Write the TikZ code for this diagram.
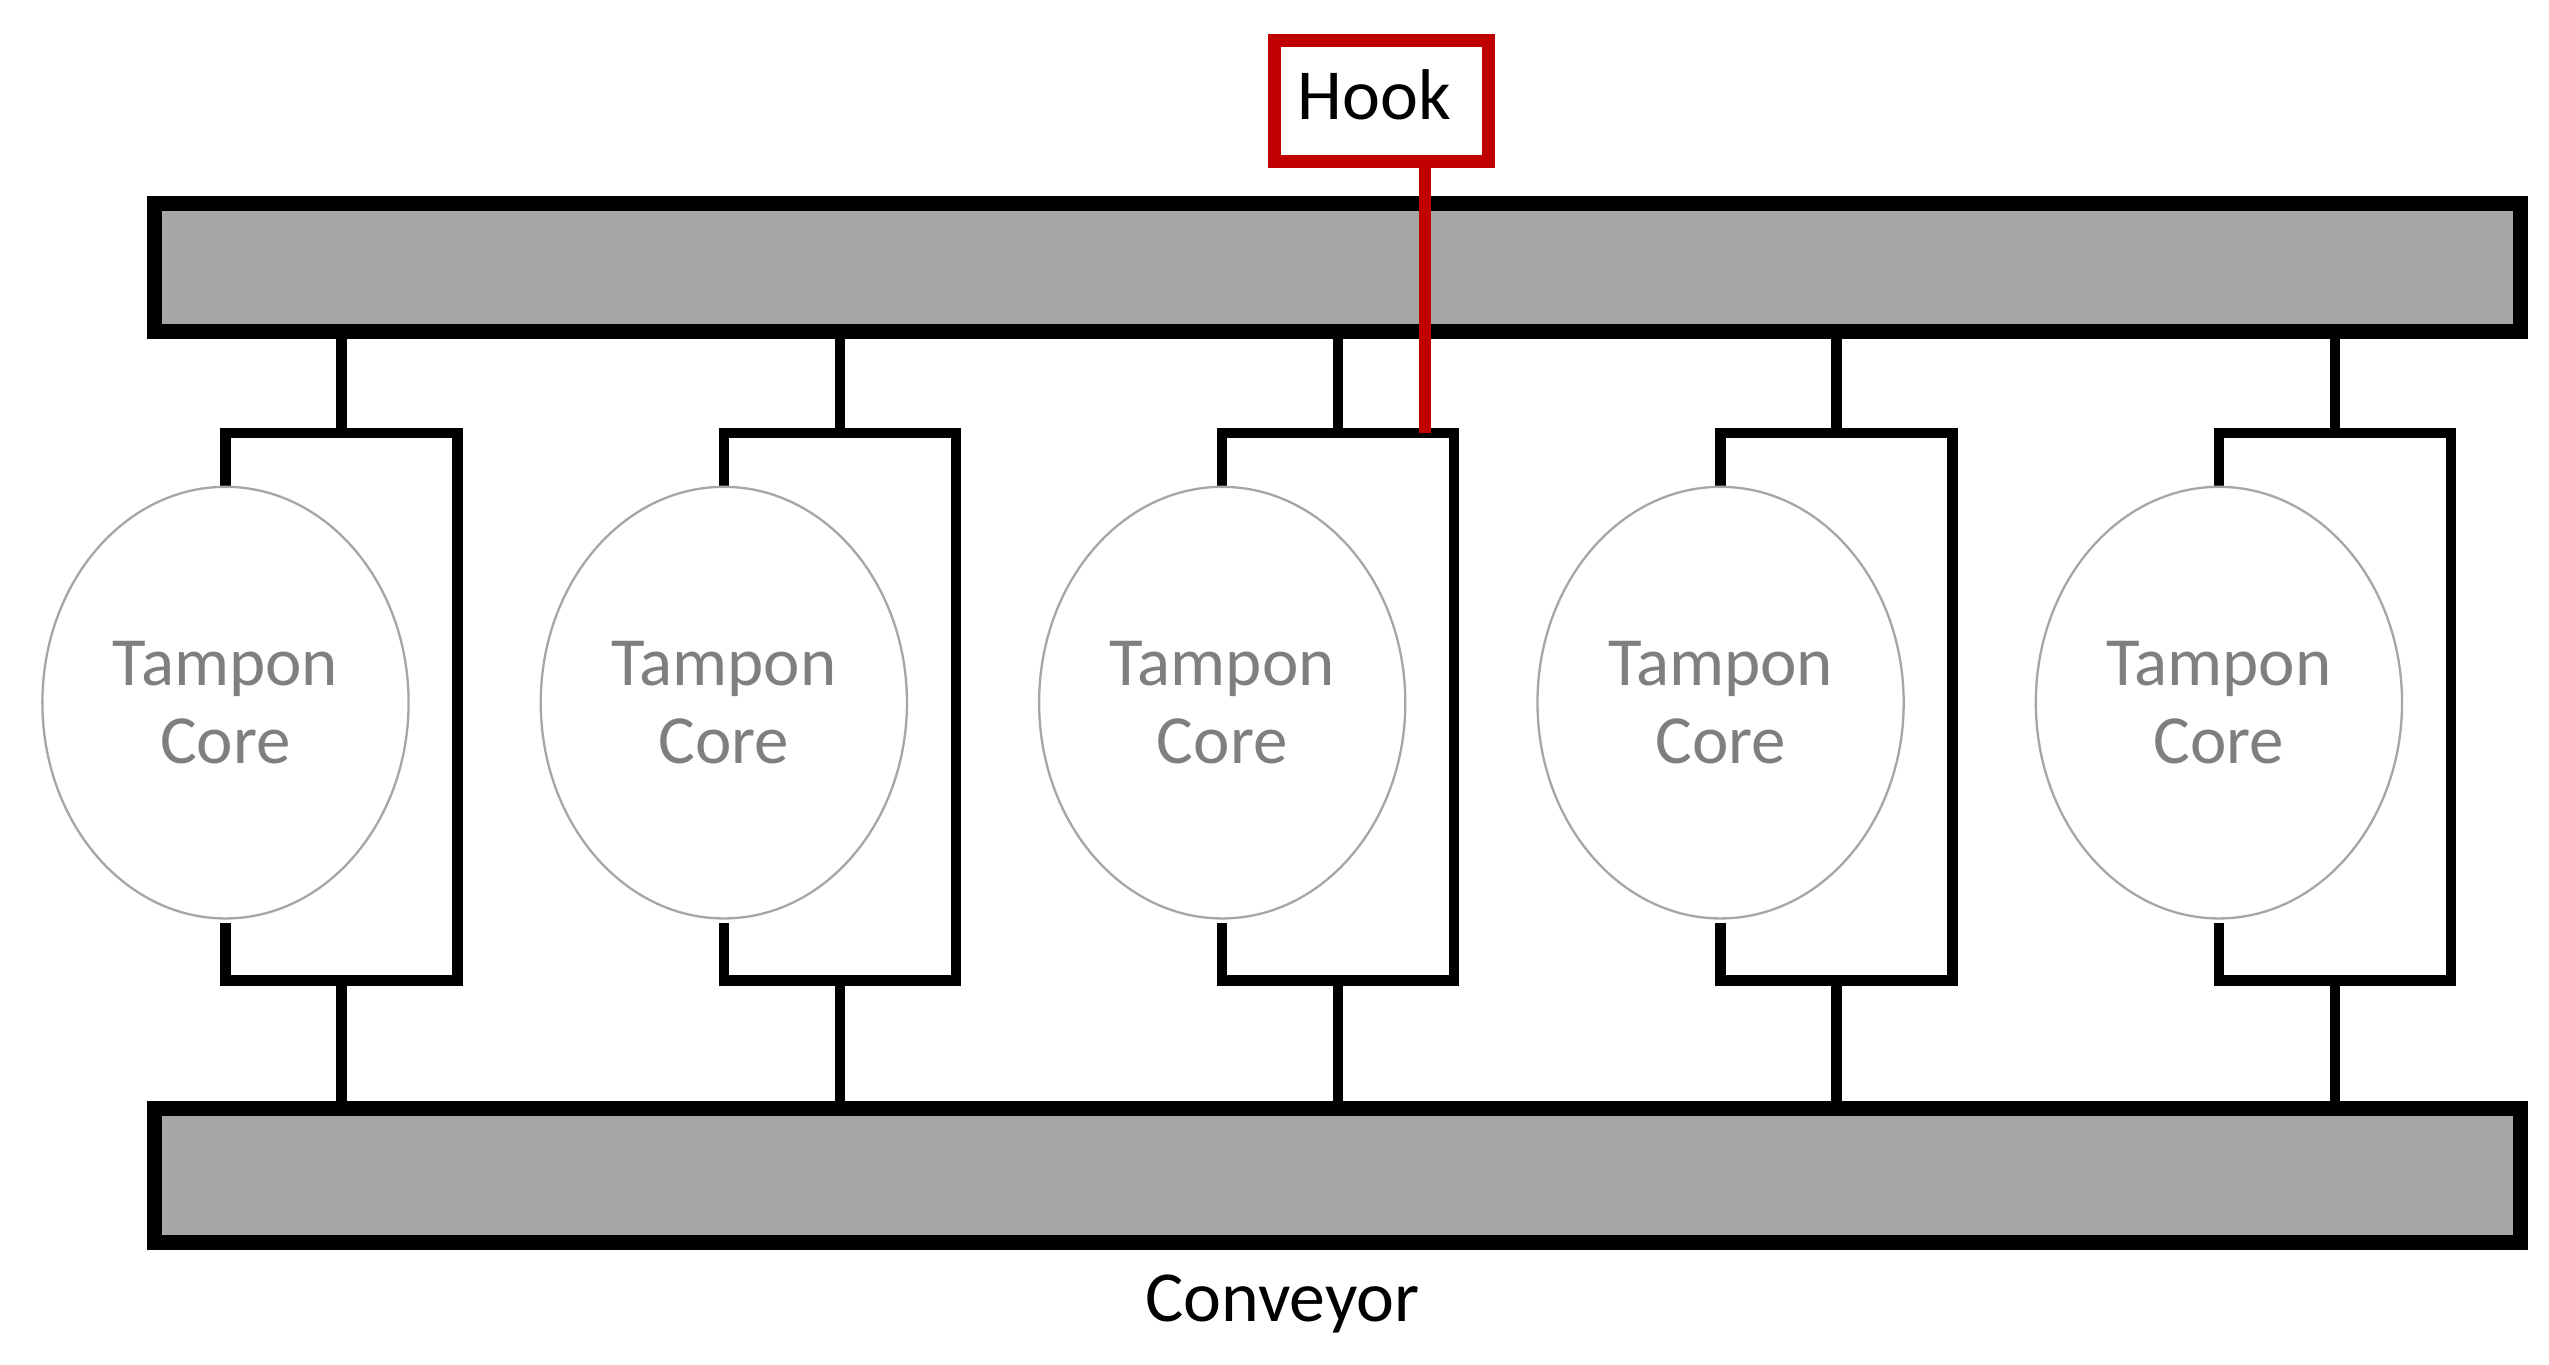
\documentclass[tikz,border=0pt]{standalone}
\usepackage{fontspec}
\setmainfont{Carlito}
\usetikzlibrary{shapes.geometric}
\definecolor{bargray}{HTML}{A6A6A6}
\definecolor{hookred}{HTML}{C00000}
\definecolor{txtgray}{HTML}{7F7F7F}
\begin{document}
\begin{tikzpicture}[x=0.01cm,y=-0.01cm,
  bar/.style={draw=black,fill=bargray,line width=2.6pt},
  holder/.style={draw=black,line width=1.8pt},
  core/.style={ellipse,draw=gray!70,line width=0.4pt,fill=white,minimum width=2.24cm,minimum height=2.64cm,inner sep=0pt,align=center,text=txtgray,font=\fontsize{12}{13.5}\selectfont},
  lbl/.style={font=\fontsize{12.5}{15}\selectfont}]
\useasboundingbox (0,0) rectangle (1560,835);
\coordinate (tt) at (0,196);
\coordinate (bb) at (0,680);
\foreach \i/\cx in {1/138,2/443,3/748,4/1053,5/1358}{
  \coordinate (tt\i) at (\cx+71,196);
  \coordinate (tb\i) at (\cx+71,265);
  \coordinate (bt\i) at (\cx+71,600);
  \coordinate (bb\i) at (\cx+71,680);
  \draw[holder] (tt\i) -- (tb\i);
  \draw[holder] (bt\i) -- (bb\i);
  \draw[holder] (\cx,300) -- (\cx,265) -- (\cx+142,265) -- (\cx+142,600) -- (\cx,600) -- (\cx,565);
  \node[core] (core\i) at (\cx,430) {Tampon\\Core};
}
\node[bar,minimum width=14.47cm,minimum height=0.78cm,inner sep=0pt,anchor=north west] (top) at (90,120) {};
\node[bar,minimum width=14.47cm,minimum height=0.82cm,inner sep=0pt,anchor=north west] (bot) at (90,674) {};
\node[lbl] (conv) at (785,798) {Conveyor};
\node[draw=hookred,line width=2.2pt,fill=white,minimum width=1.31cm,minimum height=0.74cm,inner sep=0pt,anchor=north west] (hook) at (776,21) {};
\node[lbl] (hooktxt) at (841,58) {Hook};
\coordinate (hookend) at (872,265);
\draw[hookred,line width=2.2pt] (872,95) -- (hookend);
\end{tikzpicture}
\end{document}
